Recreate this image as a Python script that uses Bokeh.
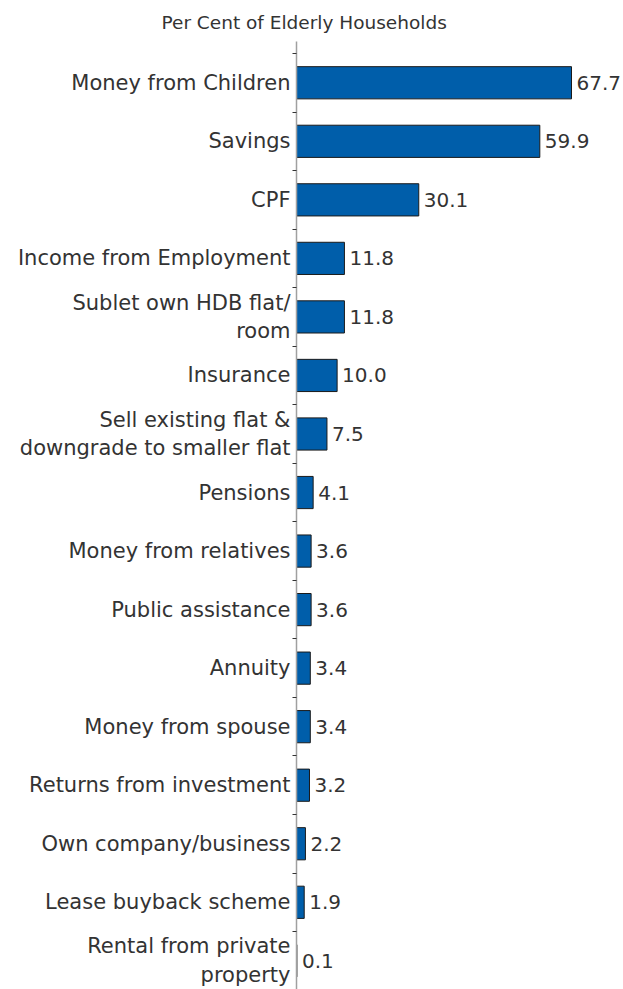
from bokeh.plotting import figure
from bokeh.models import Range1d, FixedTicker, ColumnDataSource
from bokeh.embed import file_html
from bokeh.resources import INLINE
from bokeh.core.properties import value

categories = [
    "Money from Children",
    "Savings",
    "CPF",
    "Income from Employment",
    "Sublet own HDB flat/\nroom",
    "Insurance",
    "Sell existing flat &\ndowngrade to smaller flat",
    "Pensions",
    "Money from relatives",
    "Public assistance",
    "Annuity",
    "Money from spouse",
    "Returns from investment",
    "Own company/business",
    "Lease buyback scheme",
    "Rental from private\nproperty",
]
values = [67.7, 59.9, 30.1, 11.8, 11.8, 10.0, 7.5, 4.1, 3.6, 3.6, 3.4, 3.4, 3.2, 2.2, 1.9, 0.1]
title_text = "Per Cent of Elderly Households"

FONT = "DejaVu Sans"
n = len(categories)
pos = list(range(n))

src = ColumnDataSource(dict(
    y=pos,
    v=values,
    lab=["%.1f" % v for v in values],
))

p = figure(
    width=623, height=989,
    x_range=Range1d(0, 80.5),
    y_range=Range1d(15.49, -0.705),
    output_backend="svg", toolbar_location=None,
    min_border_left=296, min_border_top=40, min_border_bottom=0, min_border_right=0,
)
p.outline_line_color = None
p.xaxis.visible = False
p.xgrid.visible = False
p.ygrid.visible = False

p.title.text = title_text
p.title.align = "left"
p.title.offset = -135
p.title.standoff = 18
p.title.text_font = FONT
p.title.text_font_size = "18.5px"
p.title.text_font_style = "normal"
p.title.text_color = "#333333"

p.hbar(y="y", right="v", left=0, height=0.55, source=src,
       fill_color="#005EAA", line_color="#1a1a1a", line_width=1)

p.text(x="v", y="y", text="lab", source=src, x_offset=5,
       text_align="left", text_baseline="middle",
       text_font=value(FONT), text_font_size="20px", text_color="#333333")

yax = p.yaxis[0]
yax.ticker = FixedTicker(ticks=pos, minor_ticks=[i - 0.5 for i in range(n + 1)])
yax.major_label_overrides = {i: c for i, c in enumerate(categories)}
yax.major_tick_out = 0
yax.major_tick_in = 0
yax.minor_tick_out = 4
yax.minor_tick_in = 0
yax.minor_tick_line_color = "#333333"
yax.axis_line_color = "#a0a0a0"
yax.axis_line_width = 1.5
yax.major_label_standoff = 2
yax.major_label_text_font = FONT
yax.major_label_text_font_size = "21px"
yax.major_label_text_color = "#333333"
yax.major_label_text_line_height = 1.2

open("out.html", "w").write(file_html(p, INLINE))
